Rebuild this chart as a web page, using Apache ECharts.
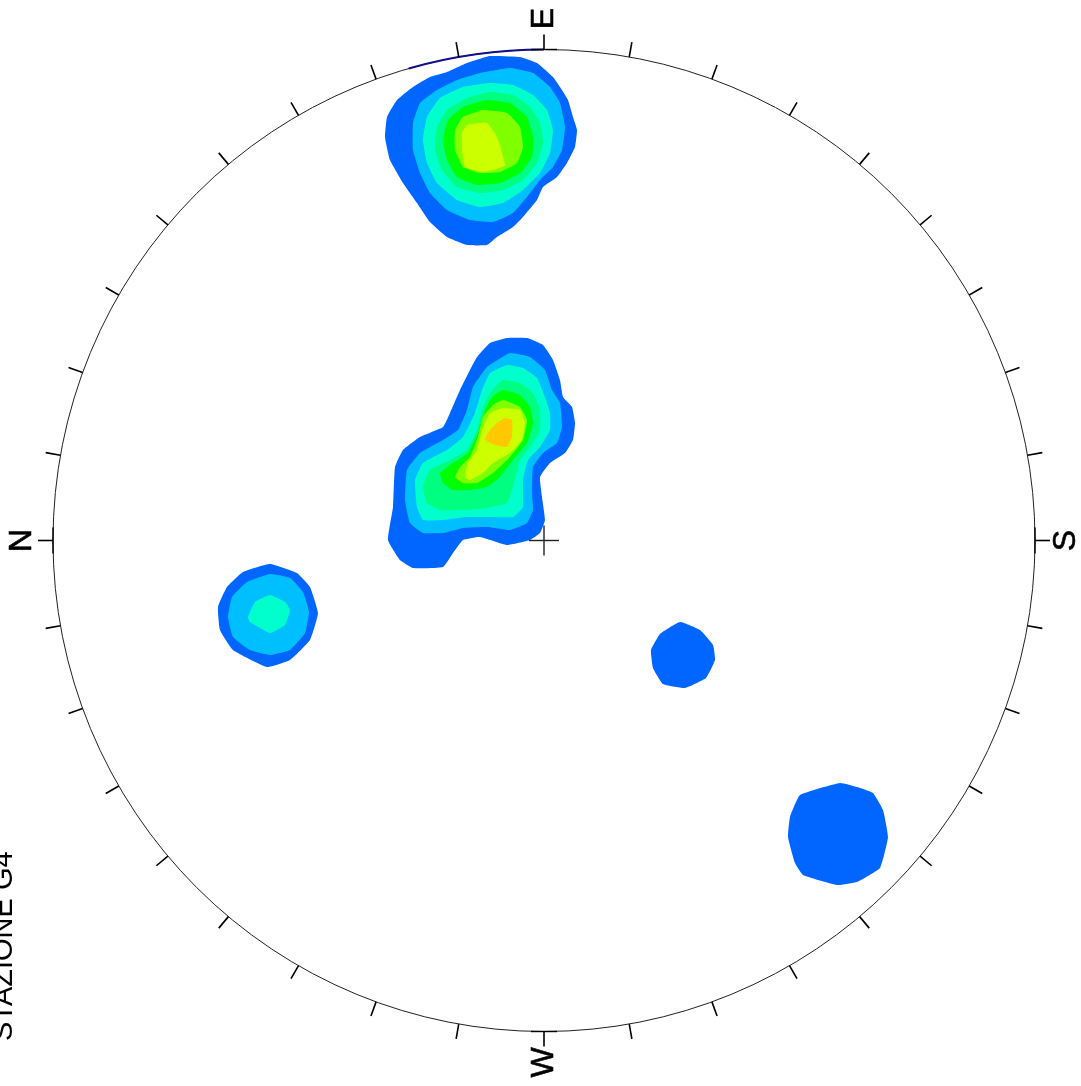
<!DOCTYPE html>
<html><head><meta charset="utf-8">
<script src="https://cdn.jsdelivr.net/npm/echarts@6/dist/echarts.min.js"></script>
<style>html,body{margin:0;padding:0;background:#fff}#chart{width:1081px;height:1086px}</style>
</head><body><div id="chart"></div>
<script>
// ---- Net geometry (data units of the projection frame) ----
const netCenter = [544, 540.5];
const netRadius = 491;
const tickAzimuths = [0,10,20,30,40,50,60,70,80,90,100,110,120,130,140,150,160,170,180,190,200,210,220,230,240,250,260,270,280,290,300,310,320,330,340,350];
const cardinalAzimuths = [0, 90, 180, 270];
const cardinalLabels = ['N', 'E', 'S', 'W'];
const highlightArc = [74, 90]; // azimuth range of the dark arc on the primitive
const titleText = 'STAZIONE G4';

// ---- Contour level colours (low -> high density) ----
const levelColors = ['#0066FF', '#00BFFF', '#00FFCC', '#00FF80', '#00FF00', '#80FF00', '#CCFF00', '#FFC800'];

// ---- Cluster A (near E) ----
const clusterA0 = [[490,56],[520,57],[537,63],[553,77],[560,87],[568,100],[573,117],[577,130],[575,147],[567,163],[557,177],[543,187],[537,200],[523,217],[513,227],[497,237],[487,245],[467,245],[447,237],[430,222],[417,203],[403,183],[390,160],[385,137],[387,117],[397,100],[413,87],[430,77],[447,72],[467,63]];
const clusterA1 = [[510,68],[533,73],[550,87],[560,103],[565,127],[562,150],[553,167],[540,180],[527,197],[513,213],[493,222],[470,220],[447,210],[430,193],[420,173],[413,150],[413,123],[420,103],[437,90],[457,80],[480,73]];
const clusterA2 = [[490,83],[513,85],[533,95],[547,110],[553,130],[550,153],[540,173],[523,190],[503,203],[480,207],[457,200],[437,183],[427,163],[423,140],[427,117],[440,98],[463,87]];
const clusterA3 = [[490,92],[513,95],[530,107],[540,123],[543,143],[537,163],[523,180],[503,190],[480,193],[457,187],[442,170],[435,150],[437,127],[447,110],[467,98]];
const clusterA4 = [[487,100],[510,103],[527,117],[533,137],[532,157],[520,173],[500,183],[477,185],[457,177],[447,160],[443,140],[448,120],[463,107]];
const clusterA5 = [[483,110],[507,113],[520,127],[523,147],[517,163],[500,172],[480,173],[463,167],[455,150],[455,130],[463,117]];
const clusterA6 = [[467,125],[487,123],[497,137],[505,165],[493,170],[483,172],[465,167],[462,150],[462,133]];

// ---- Cluster B (central) ----
const clusterB0 = [[507,338],[527,338],[543,345],[553,360],[560,380],[563,397],[572,407],[575,423],[573,440],[565,453],[550,463],[540,477],[542,497],[545,520],[540,533],[530,540],[507,545],[480,537],[463,540],[453,553],[443,567],[413,568],[400,560],[388,540],[393,507],[395,467],[403,450],[420,437],[443,427],[450,413],[460,390],[470,370],[477,357],[490,343]];
const clusterB1 = [[510,353],[530,357],[545,370],[552,390],[560,403],[562,427],[557,443],[543,453],[533,467],[532,493],[533,510],[527,523],[510,530],[487,527],[463,528],[443,533],[423,533],[410,523],[405,500],[407,470],[420,453],[443,440],[458,430],[467,410],[473,387],[487,367]];
const clusterB2 = [[507,365],[523,368],[537,378],[545,397],[550,413],[550,430],[540,447],[528,460],[523,480],[523,507],[513,517],[490,517],[467,517],[443,520],[423,520],[417,507],[415,480],[423,463],[447,450],[463,437],[475,413],[482,390],[490,373]];
const clusterB3 = [[503,380],[520,383],[533,393],[540,410],[540,430],[530,447],[520,460],[513,487],[507,503],[487,508],[463,510],[440,510],[427,503],[423,487],[430,470],[450,460],[467,450],[477,430],[483,407],[492,390]];
const clusterB4 = [[503,390],[520,395],[530,407],[533,423],[527,443],[513,460],[500,477],[487,487],[470,490],[453,490],[443,483],[440,473],[453,463],[468,453],[478,433],[485,410],[492,397]];
const clusterB5 = [[503,400],[520,407],[527,420],[523,440],[510,457],[493,473],[477,483],[463,483],[455,477],[460,467],[470,457],[478,437],[483,417],[493,405]];
const clusterB6 = [[503,408],[520,410],[525,423],[522,440],[510,453],[493,463],[483,473],[470,480],[465,477],[468,463],[477,450],[482,430],[490,413]];
const clusterB7 = [[505,418],[512,420],[512,437],[507,447],[495,445],[485,440],[490,430],[497,423]];

// ---- Cluster C (left) ----
const clusterC0 = [[270,564],[243,572],[227,587],[218,607],[220,630],[233,650],[267,667],[290,660],[310,640],[318,613],[310,587],[297,573]];
const clusterC1 = [[270,574],[247,582],[232,597],[228,617],[233,637],[250,650],[270,655],[290,650],[305,633],[309,612],[303,592],[290,578]];
const clusterC2 = [[270,595],[255,602],[248,617],[250,622],[270,633],[285,625],[290,610],[285,602]];

// ---- Cluster D (small, lower centre) ----
const clusterD0 = [[680,622],[700,630],[713,645],[715,660],[706,678],[685,688],[663,684],[653,668],[651,650],[660,634]];

// ---- Cluster E (lower right) ----
const clusterE0 = [[840,783],[800,795],[790,817],[788,837],[795,863],[803,875],[837,885],[857,882],[880,868],[888,837],[883,810],[873,793],[857,787]];

const contourList = [
  {level:0, points:clusterA0},{level:1, points:clusterA1},{level:2, points:clusterA2},{level:3, points:clusterA3},
  {level:4, points:clusterA4},{level:5, points:clusterA5},{level:6, points:clusterA6},
  {level:0, points:clusterB0},{level:1, points:clusterB1},{level:2, points:clusterB2},{level:3, points:clusterB3},
  {level:4, points:clusterB4},{level:5, points:clusterB5},{level:6, points:clusterB6},{level:7, points:clusterB7},
  {level:0, points:clusterC0},{level:1, points:clusterC1},{level:2, points:clusterC2},
  {level:0, points:clusterD0},
  {level:0, points:clusterE0}
];

const FONT = '"Liberation Sans", Arial, sans-serif';
function dirOf(az) { // azimuth -> screen direction (net rotated 90deg CCW: N left, E top)
  const t = (180 - az) * Math.PI / 180;
  return [Math.cos(t), -Math.sin(t)];
}

const chart = echarts.init(document.getElementById('chart'));
chart.setOption({
  animation: false,
  backgroundColor: '#ffffff',
  grid: {left: netCenter[0] - netRadius, top: netCenter[1] - netRadius, width: 2 * netRadius, height: 2 * netRadius},
  xAxis: {type: 'value', min: netCenter[0] - netRadius, max: netCenter[0] + netRadius, show: false},
  yAxis: {type: 'value', min: netCenter[1] - netRadius, max: netCenter[1] + netRadius, inverse: true, show: false},
  graphic: [{
    type: 'text', x: 18, y: 1041, rotation: Math.PI / 2,
    style: {text: titleText, fontSize: 29, fontFamily: FONT, fill: '#000', align: 'left', verticalAlign: 'bottom'}
  }],
  series: [
    {
      type: 'custom', silent: true, clip: false,
      data: contourList.map((c, i) => [i]),
      renderItem: function (params, api) {
        const c = contourList[params.dataIndex];
        return {
          type: 'polygon',
          shape: {points: c.points.map(p => api.coord(p)), smooth: 0.12},
          style: {fill: levelColors[c.level]}
        };
      }
    },
    {
      type: 'custom', silent: true, clip: false,
      data: [[0]],
      renderItem: function (params, api) {
        const c = api.coord(netCenter);
        const r = api.size([netRadius, 0])[0];
        const children = [];
        children.push({type: 'circle', shape: {cx: c[0], cy: c[1], r: r}, style: {fill: null, stroke: '#222', lineWidth: 1}});
        const t0 = (180 - highlightArc[0]) * Math.PI / 180, t1 = (180 - highlightArc[1]) * Math.PI / 180;
        children.push({type: 'arc', shape: {cx: c[0], cy: c[1], r: r, startAngle: -t0, endAngle: -t1, clockwise: true},
          style: {fill: null, stroke: '#10108a', lineWidth: 2}});
        tickAzimuths.forEach(az => {
          const d = dirOf(az);
          children.push({type: 'line', shape: {x1: c[0] + d[0] * r, y1: c[1] + d[1] * r, x2: c[0] + d[0] * (r + 15), y2: c[1] + d[1] * (r + 15)},
            style: {stroke: '#000', lineWidth: 1.6}});
        });
        cardinalAzimuths.forEach((az, i) => {
          const d = dirOf(az);
          const px = c[0] + d[0] * r, py = c[1] + d[1] * r;
          const tx = -d[1], ty = d[0];
          children.push({type: 'line', shape: {x1: px - tx * 13, y1: py - ty * 13, x2: px + tx * 13, y2: py + ty * 13},
            style: {stroke: '#000', lineWidth: 1.4}});
          children.push({type: 'text', x: c[0] + d[0] * (r + 31), y: c[1] + d[1] * (r + 31), rotation: Math.PI / 2,
            style: {text: cardinalLabels[i], fontSize: 32, fontFamily: FONT, fill: '#000', stroke: '#000', lineWidth: 0.6, align: 'center', verticalAlign: 'middle'}});
        });
        children.push({type: 'line', shape: {x1: c[0] - 15, y1: c[1], x2: c[0] + 15, y2: c[1]}, style: {stroke: '#222', lineWidth: 1.4}});
        children.push({type: 'line', shape: {x1: c[0], y1: c[1] - 15, x2: c[0], y2: c[1] + 15}, style: {stroke: '#222', lineWidth: 1.4}});
        return {type: 'group', children: children};
      }
    }
  ]
});
</script>
</body></html>
